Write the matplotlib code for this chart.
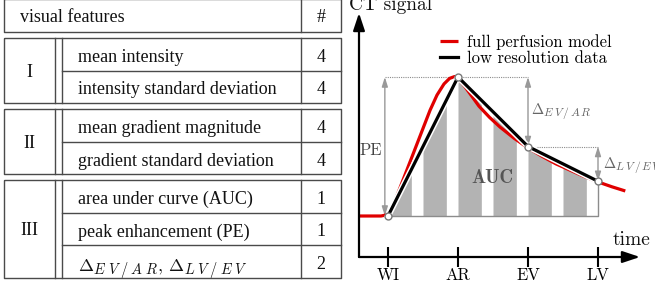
import numpy as np
import matplotlib
matplotlib.use("Agg")
import matplotlib.pyplot as plt
from matplotlib import patheffects as pe

try:  # slightly larger sub-scripts, as in the reference rendering
    import matplotlib._mathtext as _mt
    _mt.SHRINK_FACTOR = 0.8
except Exception:
    pass

# ---------------- table data ----------------
header = ["visual features", "#"]
groups = ["I", "II", "III"]
group_features = [
    ["mean intensity", "intensity standard deviation"],
    ["mean gradient magnitude", "gradient standard deviation"],
    ["area under curve (AUC)", "peak enhancement (PE)",
     r"$\Delta_{E\;V\;/\;A\;R},\,\Delta_{L\;V\;/\;E\;V}$"],
]
group_counts = [[4, 4], [4, 4], [1, 1, 2]]

# ---------------- diagram data ----------------
phase_labels = ["WI", "AR", "EV", "LV"]
phase_times = [0, 1, 2, 3]
low_res_signal = [0.0, 1.0, 0.5, 0.25]
model_times = [-0.4, -0.1, 0.0, 0.05, 0.1, 0.2, 0.3, 0.4, 0.5, 0.6, 0.7, 0.8,
               0.88, 0.95, 1.0, 1.1, 1.2, 1.3, 1.45, 1.6, 1.8, 2.0, 2.2,
               2.4, 2.6, 2.8, 3.0, 3.2, 3.39]
model_signal = [0.0, 0.0, 0.01, 0.05, 0.11, 0.24, 0.37, 0.50, 0.63, 0.76, 0.87,
                0.95, 0.99, 1.003, 0.99, 0.93, 0.86, 0.79, 0.71, 0.64, 0.56,
                0.49, 0.43, 0.375, 0.33, 0.285, 0.245, 0.21, 0.18]
bar_starts = [0.0, 0.5, 1.0, 1.5, 2.0, 2.5]
bar_width = 1 / 3
legend_labels = ["full perfusion model", "low resolution data"]
delta_labels = [r"$\Delta_{E\,V\,/\,A\,R}$", r"$\Delta_{L\,V\,/\,E\,V}$"]

W, H = 655, 285
fig = plt.figure(figsize=(W / 100, H / 100), dpi=100)

# ================= table (pixel-space axes) =================
axT = fig.add_axes([0, 0, 1, 1])
axT.set_xlim(0, W)
axT.set_ylim(H, 0)
axT.axis("off")

lc = "#4a4a4a"
lw = 1.0
x_left, x_d1, x_d2, x_col, x_right = 4, 55, 62, 301, 341
row_h, gap = 32.5, 6
tfont = dict(family="Liberation Serif", fontsize=13, color="#111111")


def rect(y0, y1):
    axT.plot([x_left, x_right, x_right, x_left, x_left],
             [y0, y0, y1, y1, y0], color=lc, lw=lw, solid_capstyle="butt")


# header
hy0, hy1 = -1, 32
rect(hy0, hy1)
axT.plot([x_col, x_col], [hy0, hy1], color=lc, lw=lw)
axT.text(20, 22.5, header[0], ha="left", va="baseline", **tfont)
axT.text((x_col + x_right) / 2, 22.5, header[1], ha="center",
         va="baseline", **tfont)

y = hy1
for g, feats, cnts in zip(groups, group_features, group_counts):
    y0 = y + gap
    y1 = y0 + row_h * len(feats)
    rect(y0, y1)
    for xv in (x_d1, x_d2, x_col):
        axT.plot([xv, xv], [y0, y1], color=lc, lw=lw)
    for k in range(1, len(feats)):
        yy = y0 + k * row_h
        axT.plot([x_d2, x_right], [yy, yy], color=lc, lw=lw)
    axT.text((x_left + x_d1) / 2, (y0 + y1) / 2 + 6.5, g, ha="center",
             va="baseline", **tfont)
    for k, (f, c) in enumerate(zip(feats, cnts)):
        yb = y0 + k * row_h + 24
        if f.startswith("$"):
            axT.text(78, yb + 2.5, f, ha="left", va="baseline",
                     math_fontfamily="cm", **tfont)
        else:
            axT.text(78, yb, f, ha="left", va="baseline", **tfont)
        axT.text((x_col + x_right) / 2, yb, str(c), ha="center",
                 va="baseline", **tfont)
    y = y1

# ================= diagram =================
px_left, px_right, px_top, px_bot = 359, 640, 13, 257
ax = fig.add_axes([px_left / W, (H - px_bot) / H, (px_right - px_left) / W,
                   (px_bot - px_top) / H])
ax.set_facecolor("none")
# pixel x = 388 + 70 t ; pixel y = 216 - 139 s
ax.set_xlim((px_left - 388) / 70, (px_right - 388) / 70)
ax.set_ylim((216 - px_bot) / 139, (216 - px_top) / 139)
for s in ax.spines.values():
    s.set_visible(False)
ax.set_yticks([])
ax.set_xticks(phase_times)
ax.set_xticklabels(phase_labels, family="cmr10", fontsize=12)
ax.tick_params(axis="x", direction="inout", length=14, width=1.5, pad=1,
               color="k")

# axes arrows
arrow_kw = dict(arrowstyle="-|>,head_length=0.75,head_width=0.25", lw=1.6,
                color="k", mutation_scale=14, shrinkA=0, shrinkB=0)
ax.annotate("", xy=(1, 0), xytext=(0, 0), xycoords="axes fraction",
            textcoords="axes fraction", arrowprops=arrow_kw, zorder=6)
ax.annotate("", xy=(0, 1), xytext=(0, 0), xycoords="axes fraction",
            textcoords="axes fraction", arrowprops=arrow_kw, zorder=6)

t_wi, t_ar, t_ev, t_lv = phase_times
s_wi, s_ar, s_ev, s_lv = low_res_signal

# AUC bars following the low resolution curve
for b in bar_starts:
    xx = np.linspace(b, b + bar_width, 30)
    ax.fill_between(xx, 0, np.interp(xx, phase_times, low_res_signal),
                    color="#b3b3b3", lw=0, zorder=1)

gray = "#8c8c8c"
# AUC frame
ax.plot([t_wi, t_lv, t_lv], [s_wi, s_wi, s_lv], color=gray, lw=1.0, zorder=1.5)

# dotted guides
x_pe = t_wi - 0.045
ax.plot([x_pe, t_ev], [s_ar, s_ar], color=gray, lw=0.8, ls=(0, (1, 1)),
        zorder=1.5)
ax.plot([t_ev, t_lv], [s_ev, s_ev], color=gray, lw=0.8, ls=(0, (1, 1)),
        zorder=1.5)

# dimension arrows
dim_kw = dict(arrowstyle="<|-|>,head_length=0.7,head_width=0.22", lw=1.0,
              color="#999999", mutation_scale=8, shrinkA=0, shrinkB=0)
ax.annotate("", xy=(x_pe, s_wi), xytext=(x_pe, s_ar), arrowprops=dim_kw,
            zorder=2)
ax.annotate("", xy=(t_ev, s_ev), xytext=(t_ev, s_ar), arrowprops=dim_kw,
            zorder=2)
ax.annotate("", xy=(t_lv, s_lv), xytext=(t_lv, s_ev), arrowprops=dim_kw,
            zorder=2)

# curves
ax.plot(model_times, model_signal, color="#e00000", lw=2.3, zorder=3,
        solid_capstyle="butt", label=legend_labels[0])
ax.plot(phase_times, low_res_signal, color="k", lw=2.3, zorder=4,
        label=legend_labels[1],
        path_effects=[pe.Stroke(linewidth=4.5, foreground="white"),
                      pe.Normal()])
ax.plot(phase_times, low_res_signal, ls="none", marker="o", ms=5,
        mfc="white", mec="#777777", mew=1.0, zorder=5)

# labels
ax.text(-0.243, 0.475, "PE", family="cmr10", fontsize=12, color="#444444",
        ha="center", va="center", zorder=3)
ax.text(t_ev + 0.04, 0.727, delta_labels[0], math_fontfamily="cm",
        fontsize=10.5, color="#666666", ha="left", va="baseline")
ax.text(t_lv + 0.067, 0.345, delta_labels[1], math_fontfamily="cm",
        fontsize=10.5, color="#666666", ha="left", va="baseline",
        clip_on=False)
ax.text(1.49, 0.27, "AUC", family="cmb10", fontsize=13.5, color="#555555",
        ha="center", va="center", zorder=2)
ax.text(3.214, -0.209, "time", family="cmr10", fontsize=14, color="#111111",
        ha="left", va="baseline")
ax.text(-0.557, 1.482, "CT signal", family="cmr10", fontsize=14,
        color="#111111", ha="left", va="baseline", clip_on=False)

leg = ax.legend(loc="upper left", bbox_to_anchor=(0.288, 0.915),
                frameon=False, handlelength=1.08, handletextpad=0.54,
                borderpad=0, borderaxespad=0, labelspacing=0.05,
                prop=dict(family="cmr10", size=12))

fig.savefig("out.png", dpi=100)
